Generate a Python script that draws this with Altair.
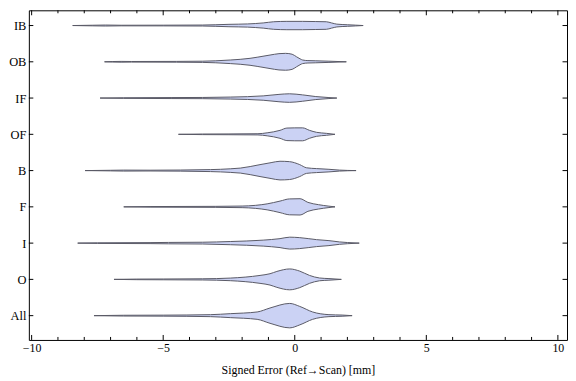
import altair as alt
import pandas as pd

# ---------------- data ----------------
categories = ["IB", "OB", "IF", "OF", "B", "F", "I", "O", "All"]
positions = [9, 8, 7, 6, 5, 4, 3, 2, 1]

# violin profiles: signed error [mm] and half-width (density, px-like units)
IB_x = [-8.44, -7.7, -7.2, -6.6, -5.0, -3.5, -2.5, -1.8, -1.2, -0.8, -0.3, 0.3, 0.8, 1.2, 1.4, 1.6, 2.0, 2.3, 2.6]
IB_w = [0.0, 0.3, 0.5, 0.3, 0.35, 0.5, 1.2, 1.6, 2.6, 3.8, 4.2, 4.2, 4.0, 3.8, 2.6, 1.4, 0.8, 0.4, 0.0]

OB_x = [-7.23, -6.6, -6.2, -4.5, -3.5, -3.0, -2.45, -1.7, -1.43, -0.94, -0.6, -0.35, -0.1, 0.07, 0.2, 0.3, 0.5, 0.8, 1.3, 1.96]
OB_w = [0.0, 0.4, 0.3, 0.4, 0.6, 1.0, 1.8, 3.5, 4.6, 6.8, 8.2, 8.5, 7.6, 5.0, 3.0, 1.8, 1.2, 1.0, 0.6, 0.0]

IF_x = [-7.4, -6.5, -4.7, -3.5, -2.45, -1.8, -1.2, -0.6, -0.2, 0.3, 0.8, 1.3, 1.6]
IF_w = [0.0, 0.3, 0.5, 0.6, 1.0, 1.4, 2.2, 3.7, 4.3, 3.2, 1.5, 0.5, 0.0]

OF_x = [-4.42, -3.5, -2.5, -1.4, -1.05, -0.56, -0.3, 0.0, 0.3, 0.56, 0.83, 1.2, 1.53]
OF_w = [0.0, 0.3, 0.4, 0.6, 1.5, 4.0, 6.3, 6.5, 6.5, 4.0, 2.0, 1.0, 0.0]

B_x = [-7.97, -7.0, -6.5, -5.5, -3.2, -2.45, -2.07, -1.32, -0.9, -0.56, -0.2, 0.19, 0.45, 0.83, 1.3, 1.7, 2.33]
B_w = [0.0, 0.3, 0.5, 0.4, 1.0, 1.8, 2.5, 6.0, 8.0, 9.4, 9.0, 6.0, 2.8, 2.0, 1.3, 0.5, 0.0]

F_x = [-6.5, -5.5, -3.0, -2.0, -1.5, -1.05, -0.56, -0.2, 0.2, 0.5, 0.9, 1.3, 1.53]
F_w = [0.0, 0.3, 0.5, 0.8, 1.5, 3.0, 5.8, 8.0, 8.2, 4.5, 2.2, 0.7, 0.0]

I_x = [-8.25, -7.5, -5.5, -4.8, -3.5, -2.45, -1.2, -0.56, -0.19, 0.19, 0.83, 1.3, 1.7, 2.0, 2.45]
I_w = [0.0, 0.3, 0.5, 0.7, 0.9, 1.6, 3.0, 4.5, 6.0, 5.5, 3.5, 2.5, 1.2, 0.6, 0.0]

O_x = [-6.87, -6.0, -5.0, -3.5, -2.45, -1.32, -0.94, -0.68, -0.19, 0.19, 0.56, 0.94, 1.3, 1.77]
O_w = [0.0, 0.3, 0.4, 0.6, 1.3, 4.0, 5.7, 8.0, 10.5, 8.3, 4.0, 1.4, 0.8, 0.0]

All_x = [-7.63, -6.5, -5.0, -3.2, -2.45, -1.43, -0.94, -0.19, 0.19, 0.68, 1.3, 1.8, 2.18]
All_w = [0.0, 0.4, 0.5, 1.0, 2.0, 3.7, 7.7, 12.3, 9.3, 3.7, 1.0, 0.6, 0.0]

profiles = {
    "IB": (IB_x, IB_w), "OB": (OB_x, OB_w), "IF": (IF_x, IF_w),
    "OF": (OF_x, OF_w), "B": (B_x, B_w), "F": (F_x, F_w),
    "I": (I_x, I_w), "O": (O_x, O_w), "All": (All_x, All_w),
}

major_ticks = [-10, -5, 0, 5, 10]
minor_ticks = [v for v in range(-10, 11) if v % 5 != 0]

# ---------------- build table ----------------
DENSITY_SCALE = 1.0 / 36.5  # density units -> category spacing
rows = []
for cat, pos in zip(categories, positions):
    xs, ws = profiles[cat]
    for x, w in zip(xs, ws):
        rows.append({"cat": cat, "pos": pos, "x": x,
                     "hi": pos + w * DENSITY_SCALE, "lo": pos - w * DENSITY_SCALE})
df = pd.DataFrame(rows)
pos_df = pd.DataFrame({"pos": positions, "cat": categories})
major_df = pd.DataFrame({"v": major_ticks})
minor_df = pd.DataFrame({"v": minor_ticks})

W, H = 542, 332
FONT = "Liberation Serif"
xscale = alt.Scale(domain=[-10.106, 10.347], nice=False, zero=False)
yscale = alt.Scale(domain=[0.33, 9.42], nice=False, zero=False)

label_expr = " : ".join(f"datum.value == {p} ? '{c}'" for c, p in zip(categories, positions)) + " : ''"

xaxis = alt.Axis(values=major_ticks, ticks=False, domain=False, grid=False,
                 labelFont=FONT, labelFontSize=12, labelColor="black", labelPadding=3,
                 title="Signed Error (Ref→Scan) [mm]", titleFont=FONT, titleFontSize=12,
                 titleFontWeight="normal", titleColor="black", titlePadding=11)
yaxis = alt.Axis(values=positions, labelExpr=label_expr, ticks=False, domain=False, grid=False,
                 labelFont=FONT, labelFontSize=12.5, labelColor="black", labelPadding=3,
                 minExtent=20, maxExtent=20, title=None)

violins = alt.Chart(df).mark_area(
    orient="vertical", interpolate="monotone", fill="#CBD2F4",
    stroke="#5a5a66", strokeWidth=1, strokeJoin="round"
).encode(
    x=alt.X("x:Q", scale=xscale, axis=xaxis),
    y=alt.Y("hi:Q", scale=yscale, axis=yaxis),
    y2="lo:Q",
    detail="cat:N",
)

def xticks(data, length, top):
    if top:
        enc = dict(y=alt.value(0), y2=alt.value(length))
    else:
        enc = dict(y=alt.value(H), y2=alt.value(H - length))
    return alt.Chart(data).mark_rule(color="black", strokeWidth=1).encode(
        x=alt.X("v:Q", scale=xscale), **enc)

bottom_major = xticks(major_df, 5, False)
bottom_minor = xticks(minor_df, 3, False)
top_major = xticks(major_df, 5, True)
top_minor = xticks(minor_df, 3, True)

left_ticks = alt.Chart(pos_df).mark_rule(color="black", strokeWidth=1).encode(
    y=alt.Y("pos:Q", scale=yscale), x=alt.value(0), x2=alt.value(4.5))
right_ticks = alt.Chart(pos_df).mark_rule(color="black", strokeWidth=1).encode(
    y=alt.Y("pos:Q", scale=yscale), x=alt.value(W - 4.5), x2=alt.value(W))

chart = alt.layer(
    violins, bottom_major, bottom_minor, top_major, top_minor, left_ticks, right_ticks
).properties(
    width=W, height=H, padding={"left": 0, "top": 0, "right": 0, "bottom": 0},
    background="white"
).configure_view(
    stroke="black", strokeWidth=1
)

chart.save("out.html", embed_options={"renderer": "svg", "actions": False})
